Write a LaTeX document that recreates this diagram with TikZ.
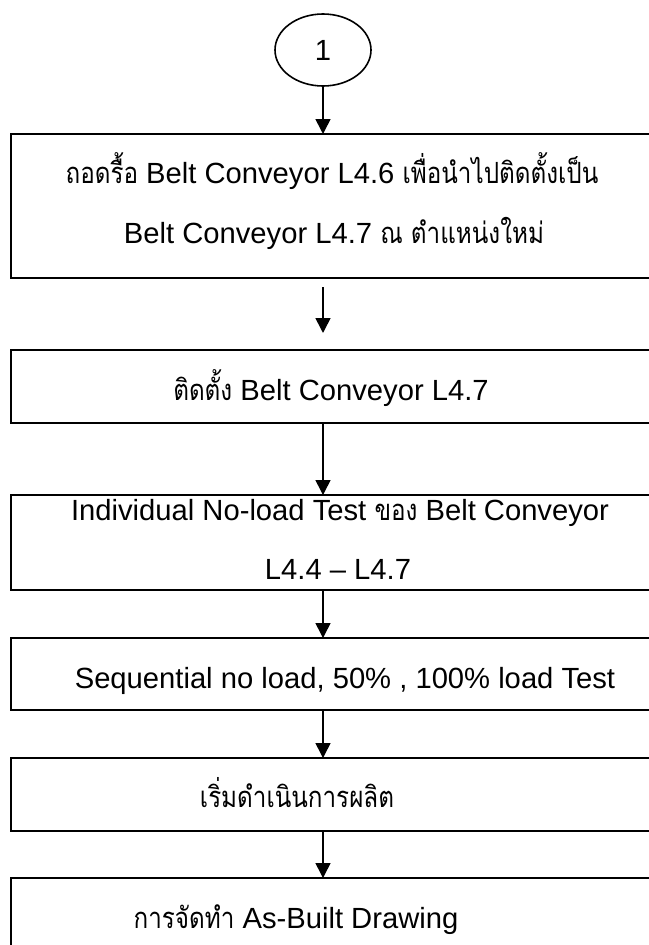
\documentclass[tikz,border=0pt]{standalone}
\usepackage{fontspec}
\setmainfont{Liberation Sans}
\newfontfamily\thai[Script=Thai,FakeStretch=0.83]{Loma}
\usetikzlibrary{arrows.meta,shapes.geometric}
\begin{document}
\begin{tikzpicture}[x=1bp,y=-1bp,
  box/.style={draw, line width=1.6bp, rectangle, inner sep=0pt, outer sep=0pt, anchor=north west, minimum width=650bp},
  txt/.style={anchor=base, inner sep=0pt, font=\fontsize{29.3}{34}\selectfont},
  arr/.style={line width=1.6bp, -{Triangle[length=15bp,width=15bp]}}]
\useasboundingbox (0,0) rectangle (649,945);
\clip (0,0) rectangle (649,945);
\fill[white] (0,0) rectangle (649,945);
% start connector
\node[ellipse, draw, line width=1.6bp, minimum width=96bp, minimum height=72bp, inner sep=0pt, outer sep=0pt, font=\fontsize{29.3}{34}\selectfont] (c1) at (323,50) {1};
% boxes
\node[box, minimum height=144bp] (b1) at (11,134) {};
\node[box, minimum height=73bp] (b2) at (11,350) {};
\node[box, minimum height=95bp] (b3) at (11,495) {};
\node[box, minimum height=72bp] (b4) at (11,638) {};
\node[box, minimum height=73bp] (b5) at (11,758) {};
\node[box, minimum height=110bp] (b6) at (11,878) {};
% texts
\node[txt] (t1a) at (332,183) {{\thai ถอดรื้อ} Belt Conveyor L4.6 {\thai เพื่อนำไปติดตั้งเป็น}};
\node[txt] (t1b) at (334,243) {Belt Conveyor L4.7 {\thai ณ ตำแหน่งใหม่}};
\node[txt] (t2) at (331,400) {{\thai ติดตั้ง} Belt Conveyor L4.7};
\node[txt] (t3a) at (340,520) {Individual No-load Test {\thai ของ} Belt Conveyor};
\node[txt] (t3b) at (338,579) {L4.4 – L4.7};
\node[txt] (t4) at (345,688) {Sequential no load, 50\% , 100\% load Test};
\node[txt] (t5) at (297,807) {\thai เริ่มดำเนินการผลิต};
\node[txt] (t6) at (296,928) {{\thai การจัดทำ} As-Built Drawing};
% connectors
\coordinate (a2s) at (323,287);
\coordinate (a2e) at (323,333);
\draw[arr] (c1.south) -- (c1.south |- b1.north);
\draw[arr] (a2s) -- (a2e);
\draw[arr] (b2.south -| c1.south) -- (b3.north -| c1.south);
\draw[arr] (b3.south -| c1.south) -- (b4.north -| c1.south);
\draw[arr] (b4.south -| c1.south) -- (b5.north -| c1.south);
\draw[arr] (b5.south -| c1.south) -- (b6.north -| c1.south);
\end{tikzpicture}
\end{document}
